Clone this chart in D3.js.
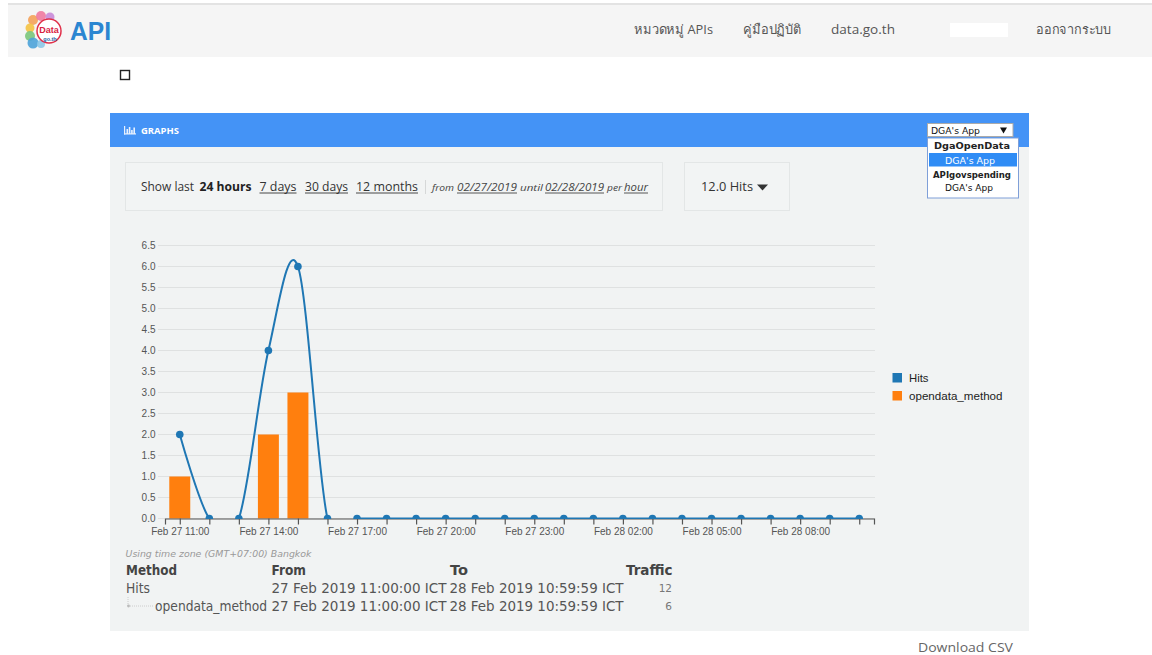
<!DOCTYPE html>
<html>
<head>
<meta charset="utf-8">
<script src="https://cdn.jsdelivr.net/npm/d3@7"></script>
<style>
html,body{margin:0;padding:0;background:#fff;overflow:hidden;}
svg{display:block;}
</style>
</head>
<body>
<script>
// ---------- data ----------
const hours = ["Feb 27 11:00","Feb 27 12:00","Feb 27 13:00","Feb 27 14:00","Feb 27 15:00","Feb 27 16:00",
  "Feb 27 17:00","Feb 27 18:00","Feb 27 19:00","Feb 27 20:00","Feb 27 21:00","Feb 27 22:00",
  "Feb 27 23:00","Feb 28 00:00","Feb 28 01:00","Feb 28 02:00","Feb 28 03:00","Feb 28 04:00",
  "Feb 28 05:00","Feb 28 06:00","Feb 28 07:00","Feb 28 08:00","Feb 28 09:00","Feb 28 10:00"];
const hits =           [2,0,0,4,6,0,0,0,0,0,0,0,0,0,0,0,0,0,0,0,0,0,0,0];
const opendataMethod = [1,0,0,2,3,0,0,0,0,0,0,0,0,0,0,0,0,0,0,0,0,0,0,0];
const xTickLabels = ["Feb 27 11:00","Feb 27 14:00","Feb 27 17:00","Feb 27 20:00","Feb 27 23:00","Feb 28 02:00","Feb 28 05:00","Feb 28 08:00"];
const yTicks = [0,0.5,1,1.5,2,2.5,3,3.5,4,4.5,5,5.5,6,6.5];
const seriesNames = ["Hits","opendata_method"];
const seriesColors = ["#1f77b4","#ff7f0e"];
const navItems = ["หมวดหมู่ APIs","คู่มือปฏิบัติ","data.go.th","ออกจากระบบ"];
const tableRows = [
  {method:"Hits", from:"27 Feb 2019 11:00:00 ICT", to:"28 Feb 2019 10:59:59 ICT", traffic:"12"},
  {method:"opendata_method", from:"27 Feb 2019 11:00:00 ICT", to:"28 Feb 2019 10:59:59 ICT", traffic:"6"}
];

const W = 1152, H = 655;
const svg = d3.select("body").append("svg").attr("width", W).attr("height", H);

function T(g, x, y, s, o) {
  o = o || {};
  const t = g.append("text").attr("x", x).attr("y", y).text(s)
    .attr("font-family", o.ff || "'Open Sans', 'DejaVu Sans', sans-serif")
    .attr("font-size", o.fs || 12)
    .attr("fill", o.fill || "#333");
  if (o.fw) t.attr("font-weight", o.fw);
  if (o.fst) t.attr("font-style", o.fst);
  if (o.anchor) t.attr("text-anchor", o.anchor);
  if (o.len) t.attr("textLength", o.len).attr("lengthAdjust", "spacingAndGlyphs");
  if (o.ul && o.len) {
    g.append("line").attr("x1", x).attr("x2", x + o.len).attr("y1", y + 2).attr("y2", y + 2)
      .attr("stroke", o.fill || "#333").attr("stroke-width", 0.9);
  }
  return t;
}

// ---------- page header ----------
svg.append("rect").attr("x", 8).attr("y", 3).attr("width", W - 8).attr("height", 2).attr("fill", "#e3e3e3");
svg.append("rect").attr("x", 8).attr("y", 5).attr("width", W - 8).attr("height", 52).attr("fill", "#f5f5f5");

// logo
const logo = svg.append("g").attr("transform", "translate(45,31)");
const petals = [["#f4a259",-12,-11,5],["#f07aa0",-4,-15,5],["#c98bd8",5,-14,4.5],["#f5c342",-15,-3,4.5],
  ["#7bc67b",-15,5,5],["#4da3d9",-12,12,5.5],["#8cc8e8",-4,13,4]];
petals.forEach(p => logo.append("circle").attr("cx", p[1]).attr("cy", p[2]).attr("r", p[3]).attr("fill", p[0]).attr("opacity", 0.9));
logo.append("circle").attr("cx", 4).attr("cy", 0).attr("r", 12).attr("fill", "#fff").attr("stroke", "#e0304a").attr("stroke-width", 1.5);
T(logo, 4, 2, "Data", {ff:"'Liberation Sans', Arial, sans-serif", fs:9, fw:"bold", fill:"#d9223f", anchor:"middle"});
T(logo, 5, 10, "go.th", {ff:"'Liberation Sans', Arial, sans-serif", fs:5.5, fw:"bold", fill:"#1f5fa8", anchor:"middle"});
T(svg, 70, 40, "API", {ff:"'Liberation Sans', Arial, sans-serif", fs:25, fw:"bold", fill:"#2b86d1", len:41});

// nav
const navX = [634, 743, 831, 1036], navL = [79, 58, 64, 75];
navItems.forEach((s, i) => T(svg, navX[i], 34, s, {fs:13, fill:"#555", len:navL[i]}));
svg.append("rect").attr("x", 950).attr("y", 23).attr("width", 58).attr("height", 14).attr("fill", "#fff");

// checkbox
svg.append("rect").attr("x", 120.5).attr("y", 70.5).attr("width", 9).attr("height", 9)
  .attr("fill", "#fff").attr("stroke", "#222").attr("stroke-width", 1.4);

// ---------- panel ----------
svg.append("rect").attr("x", 110).attr("y", 113).attr("width", 919).attr("height", 518).attr("fill", "#f1f3f3");
svg.append("rect").attr("x", 110).attr("y", 113).attr("width", 919).attr("height", 34).attr("fill", "#4493f6");
// icon
const ic = svg.append("g").attr("fill", "#e8f1fe");
ic.append("rect").attr("x", 124).attr("y", 126).attr("width", 1.2).attr("height", 8.5);
ic.append("rect").attr("x", 124).attr("y", 133.3).attr("width", 12).attr("height", 1.2);
[[126.5,129,5],[128.8,127,7],[131.1,130,4],[133.4,127.5,6.5]].forEach(b =>
  ic.append("rect").attr("x", b[0]).attr("y", b[1]).attr("width", 1.6).attr("height", b[2]));
T(svg, 141, 134, "GRAPHS", {fs:9.5, fw:"bold", fill:"#fff", len:38});

// select + dropdown
svg.append("rect").attr("x", 927.5).attr("y", 123.5).attr("width", 85.5).attr("height", 13).attr("fill", "#fff").attr("stroke", "#aaa");
T(svg, 931, 134, "DGA's App", {ff:"'DejaVu Sans', sans-serif", fs:9.5, fill:"#111", len:49});
svg.append("path").attr("d", "M1000,127.5 L1007,127.5 L1003.5,133.5 Z").attr("fill", "#111");
svg.append("rect").attr("x", 927.5).attr("y", 138).attr("width", 91).attr("height", 60).attr("fill", "#fff").attr("stroke", "#7f9fd8");
svg.append("rect").attr("x", 929).attr("y", 153).attr("width", 88).attr("height", 13.5).attr("fill", "#2f8cf5");
T(svg, 934, 148.5, "DgaOpenData", {ff:"'DejaVu Sans', sans-serif", fs:9.5, fw:"bold", fill:"#222", len:76});
T(svg, 945, 163.5, "DGA's App", {ff:"'DejaVu Sans', sans-serif", fs:9.5, fill:"#fff", len:50});
T(svg, 933, 177.5, "APIgovspending", {ff:"'DejaVu Sans', sans-serif", fs:9.5, fw:"bold", fill:"#222", len:78});
T(svg, 945, 191, "DGA's App", {ff:"'DejaVu Sans', sans-serif", fs:9.5, fill:"#111", len:48});

// controls
svg.append("rect").attr("x", 125.5).attr("y", 162.5).attr("width", 537).attr("height", 48).attr("fill", "#f2f4f4").attr("stroke", "#e3e6e6");
svg.append("rect").attr("x", 684.5).attr("y", 162.5).attr("width", 105).attr("height", 48).attr("fill", "#f2f4f4").attr("stroke", "#e3e6e6");
const cb = 191;
T(svg, 141, cb, "Show last", {fs:12, fill:"#333", len:53});
T(svg, 199.5, cb, "24 hours", {fs:12, fw:"bold", fill:"#222", len:52});
T(svg, 259.5, cb, "7 days", {fs:12, fill:"#333", len:37, ul:true});
T(svg, 305, cb, "30 days", {fs:12, fill:"#333", len:43, ul:true});
T(svg, 356, cb, "12 months", {fs:12, fill:"#333", len:62, ul:true});
svg.append("line").attr("x1", 425.5).attr("x2", 425.5).attr("y1", 180).attr("y2", 194).attr("stroke", "#d6d8d8");
T(svg, 432, cb, "from", {fs:9.5, fst:"italic", fill:"#444", len:22});
T(svg, 457, cb, "02/27/2019", {fs:10.5, fst:"italic", fill:"#444", len:60, ul:true});
T(svg, 520, cb, "until", {fs:9.5, fst:"italic", fill:"#444", len:23});
T(svg, 545, cb, "02/28/2019", {fs:10.5, fst:"italic", fill:"#444", len:59, ul:true});
T(svg, 607, cb, "per", {fs:9.5, fst:"italic", fill:"#444", len:15});
T(svg, 624, cb, "hour", {fs:10.5, fst:"italic", fill:"#444", len:24, ul:true});
T(svg, 701, cb, "12.0 Hits", {fs:12.5, fill:"#333", len:52});
svg.append("path").attr("d", "M757,184.5 L768,184.5 L762.5,190.5 Z").attr("fill", "#333");

// ---------- chart ----------
const x = d3.scalePoint().domain(hours).range([165, 874]).padding(0.5);
const y = d3.scaleLinear().domain([0, 6.5]).range([518.5, 245.5]);
const chart = svg.append("g");

// grid
chart.append("g").selectAll("line").data(yTicks).join("line")
  .attr("x1", 158).attr("x2", 875)
  .attr("y1", d => y(d)).attr("y2", d => y(d))
  .attr("stroke", "#dfe1e1").attr("stroke-width", 1);

// y labels (axis without line)
const yAxis = chart.append("g").attr("transform", "translate(158,0)")
  .call(d3.axisLeft(y).tickValues(yTicks).tickFormat(d3.format(".1f")).tickSize(0).tickPadding(2.5));
yAxis.select(".domain").remove();
yAxis.selectAll("text").attr("font-family", "'Liberation Sans', Arial, sans-serif").attr("font-size", 10).attr("fill", "#555");

// bars
const bw = x.step() * 0.71;
chart.append("g").selectAll("rect").data(hours.map((h, i) => ({h, v: opendataMethod[i]})).filter(d => d.v > 0)).join("rect")
  .attr("x", d => x(d.h) - bw / 2).attr("width", bw)
  .attr("y", d => y(d.v)).attr("height", d => y(0) - y(d.v))
  .attr("fill", seriesColors[1]);

// x axis
const xAxis = chart.append("g").attr("transform", `translate(0,${y(0)})`)
  .call(d3.axisBottom(x).tickSizeInner(6).tickSizeOuter(6).tickPadding(3)
    .tickFormat(d => xTickLabels.includes(d) ? d : ""));
xAxis.select(".domain").attr("stroke", "#555").attr("stroke-width", 1.2);
xAxis.selectAll(".tick line").attr("stroke", "#555").attr("stroke-width", 1.2);
xAxis.selectAll("text").attr("font-family", "'Liberation Sans', Arial, sans-serif").attr("font-size", 10).attr("fill", "#555");

// clip for line + points
svg.append("defs").append("clipPath").attr("id", "plotclip").append("rect")
  .attr("x", 158).attr("y", 200).attr("width", 720).attr("height", y(0) + 0.6 - 200);
const hitsData = hours.map((h, i) => ({h, v: hits[i]}));
const lineG = chart.append("g").attr("clip-path", "url(#plotclip)");
lineG.append("path").datum(hitsData)
  .attr("d", d3.line().x(d => x(d.h)).y(d => y(d.v)).curve(d3.curveCardinal.tension(0)))
  .attr("fill", "none").attr("stroke", seriesColors[0]).attr("stroke-width", 2);
lineG.selectAll("circle").data(hitsData).join("circle")
  .attr("cx", d => x(d.h)).attr("cy", d => y(d.v)).attr("r", 3.8).attr("fill", seriesColors[0]);

// legend
const lg = chart.append("g");
seriesNames.forEach((n, i) => {
  lg.append("rect").attr("x", 892.5).attr("y", 373 + i * 18).attr("width", 9.5).attr("height", 9.5).attr("fill", seriesColors[i]);
  T(lg, 909, 382 + i * 18, n, {ff:"'Liberation Sans', Arial, sans-serif", fs:11.5, fill:"#222", len: i === 0 ? 19.5 : 93.5});
});

// ---------- table ----------
T(svg, 125.5, 556.5, "Using time zone (GMT+07:00) Bangkok", {ff:"'DejaVu Sans', sans-serif", fs:9, fst:"italic", fill:"#999", len:186});
const tf = "'DejaVu Sans', sans-serif";
T(svg, 126, 575, "Method", {ff:tf, fs:13.5, fw:"bold", fill:"#444", len:51});
T(svg, 271.5, 575, "From", {ff:tf, fs:13.5, fw:"bold", fill:"#444", len:34.5});
T(svg, 450, 575, "To", {ff:tf, fs:13.5, fw:"bold", fill:"#444", len:18});
T(svg, 672.5, 575, "Traffic", {ff:tf, fs:13.5, fw:"bold", fill:"#444", anchor:"end"});
tableRows.forEach((r, i) => {
  const by = 593 + i * 18;
  if (i === 0) {
    T(svg, 126, by, r.method, {ff:tf, fs:13.5, fill:"#555", len:24});
  } else {
    svg.append("line").attr("x1", 128).attr("x2", 128).attr("y1", by - 14).attr("y2", by - 5).attr("stroke", "#ccc").attr("stroke-dasharray", "1,1");
    svg.append("line").attr("x1", 130).attr("x2", 154).attr("y1", by - 5).attr("y2", by - 5).attr("stroke", "#ccc").attr("stroke-dasharray", "1,1");
    svg.append("circle").attr("cx", 128.5).attr("cy", by - 5).attr("r", 1.4).attr("fill", "#bbb");
    T(svg, 155, by, r.method, {ff:tf, fs:13.5, fill:"#555", len:112});
  }
  T(svg, 271.5, by, r.from, {ff:tf, fs:13.5, fill:"#555", len:175});
  T(svg, 449.5, by, r.to, {ff:tf, fs:13.5, fill:"#555", len:174});
  T(svg, 672, by - 1, r.traffic, {ff:tf, fs:10.5, fill:"#777", anchor:"end"});
});

T(svg, 918, 651.5, "Download CSV", {fs:12, fill:"#666", len:95});
</script>
</body>
</html>
